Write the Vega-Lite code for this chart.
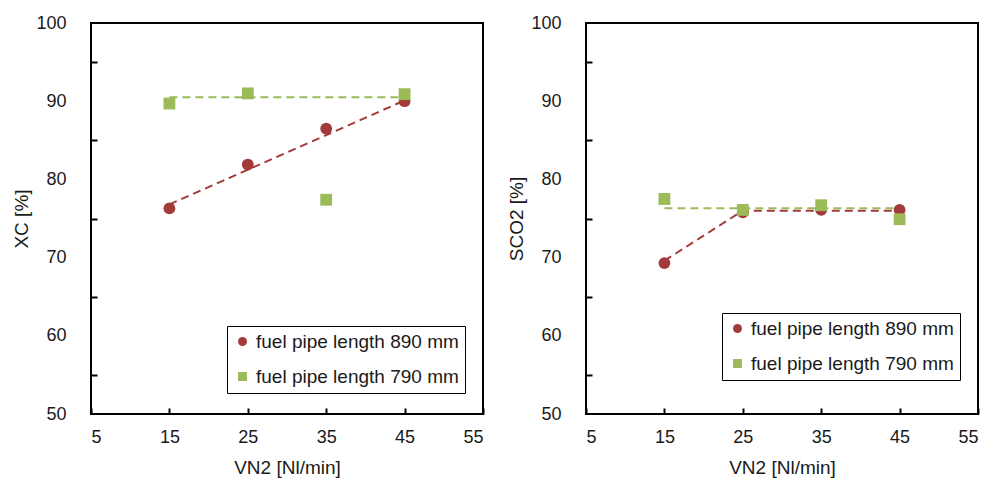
{
  "$schema": "https://vega.github.io/schema/vega-lite/v6.json",
  "background": "white",
  "padding": {"left": 11, "top": 13, "right": 5, "bottom": 3},
  "spacing": 21,
  "datasets": {
    "pts": [
      {"panel": "X", "series": "fuel pipe length 890 mm", "v": 15, "y": 76.3},
      {"panel": "X", "series": "fuel pipe length 890 mm", "v": 25, "y": 81.9},
      {"panel": "X", "series": "fuel pipe length 890 mm", "v": 35, "y": 86.5},
      {"panel": "X", "series": "fuel pipe length 890 mm", "v": 45, "y": 90.0},
      {"panel": "X", "series": "fuel pipe length 790 mm", "v": 15, "y": 89.7},
      {"panel": "X", "series": "fuel pipe length 790 mm", "v": 25, "y": 91.0},
      {"panel": "X", "series": "fuel pipe length 790 mm", "v": 35, "y": 77.4},
      {"panel": "X", "series": "fuel pipe length 790 mm", "v": 45, "y": 90.9},
      {"panel": "S", "series": "fuel pipe length 890 mm", "v": 15, "y": 69.3},
      {"panel": "S", "series": "fuel pipe length 890 mm", "v": 25, "y": 75.8},
      {"panel": "S", "series": "fuel pipe length 890 mm", "v": 35, "y": 76.1},
      {"panel": "S", "series": "fuel pipe length 890 mm", "v": 45, "y": 76.1},
      {"panel": "S", "series": "fuel pipe length 790 mm", "v": 15, "y": 77.5},
      {"panel": "S", "series": "fuel pipe length 790 mm", "v": 25, "y": 76.1},
      {"panel": "S", "series": "fuel pipe length 790 mm", "v": 35, "y": 76.7},
      {"panel": "S", "series": "fuel pipe length 790 mm", "v": 45, "y": 74.9}
    ],
    "trend": [
      {"panel": "X", "series": "fuel pipe length 890 mm", "v": 15, "y": 76.8},
      {"panel": "X", "series": "fuel pipe length 890 mm", "v": 45, "y": 90.1},
      {"panel": "X", "series": "fuel pipe length 790 mm", "v": 15, "y": 90.5},
      {"panel": "X", "series": "fuel pipe length 790 mm", "v": 45, "y": 90.5},
      {"panel": "S", "series": "fuel pipe length 890 mm", "v": 15, "y": 69.6},
      {"panel": "S", "series": "fuel pipe length 890 mm", "v": 25, "y": 76.0},
      {"panel": "S", "series": "fuel pipe length 890 mm", "v": 35, "y": 76.0},
      {"panel": "S", "series": "fuel pipe length 890 mm", "v": 45, "y": 76.0},
      {"panel": "S", "series": "fuel pipe length 790 mm", "v": 15, "y": 76.3},
      {"panel": "S", "series": "fuel pipe length 790 mm", "v": 45, "y": 76.3}
    ]
  },
  "hconcat": [
    {
      "width": 392,
      "height": 391,
      "resolve": {"axis": {"y": "independent"}},
      "layer": [
        {
          "data": {"name": "trend"},
          "transform": [{"filter": "datum.panel === 'X' && datum.series === 'fuel pipe length 890 mm'"}],
          "mark": {"type": "line", "strokeDash": [8, 5], "strokeWidth": 2, "color": "#A33A3A"},
          "encoding": {
            "x": {"field": "v", "type": "quantitative", "scale": {"domain": [5, 55], "nice": false, "zero": false}},
            "y": {"field": "y", "type": "quantitative",
              "scale": {"domain": [50, 100], "nice": false, "zero": false},
              "axis": {"orient": "right", "offset": -392, "values": [55, 65, 75, 85, 95], "labels": false, "domain": false, "ticks": true, "tickSize": 6, "tickOpacity": 1, "title": null}}
          }
        },
        {
          "data": {"name": "trend"},
          "transform": [{"filter": "datum.panel === 'X' && datum.series === 'fuel pipe length 790 mm'"}],
          "mark": {"type": "line", "strokeDash": [8, 5], "strokeWidth": 2, "color": "#9BBB59"},
          "encoding": {
            "x": {"field": "v", "type": "quantitative", "scale": {"domain": [5, 55], "nice": false, "zero": false}},
            "y": {"field": "y", "type": "quantitative", "scale": {"domain": [50, 100], "nice": false, "zero": false}, "axis": null}
          }
        },
        {
          "data": {"name": "pts"},
          "transform": [{"filter": "datum.panel === 'X'"}],
          "mark": {"type": "point", "filled": true, "opacity": 1, "size": 140},
          "encoding": {
            "x": {"field": "v", "type": "quantitative",
              "scale": {"domain": [5, 55], "nice": false, "zero": false},
              "axis": {"values": [5, 15, 25, 35, 45, 55], "title": "VN2 [Nl/min]"}},
            "y": {"field": "y", "type": "quantitative",
              "scale": {"domain": [50, 100], "nice": false, "zero": false},
              "axis": {"orient": "left", "values": [50, 60, 70, 80, 90, 100], "tickOpacity": 0, "title": "XC [%]"}},
            "color": {"field": "series", "type": "nominal",
              "scale": {"domain": ["fuel pipe length 890 mm", "fuel pipe length 790 mm"], "range": ["#A33A3A", "#9BBB59"]},
              "legend": {"orient": "none", "legendX": 136, "legendY": 303, "title": null}},
            "shape": {"field": "series", "type": "nominal",
              "scale": {"domain": ["fuel pipe length 890 mm", "fuel pipe length 790 mm"], "range": ["circle", "square"]},
              "legend": {"orient": "none", "legendX": 136, "legendY": 303, "title": null}}
          }
        }
      ]
    },
    {
      "width": 392,
      "height": 391,
      "resolve": {"axis": {"y": "independent"}},
      "layer": [
        {
          "data": {"name": "trend"},
          "transform": [{"filter": "datum.panel === 'S' && datum.series === 'fuel pipe length 890 mm'"}],
          "mark": {"type": "line", "strokeDash": [8, 5], "strokeWidth": 2, "color": "#A33A3A"},
          "encoding": {
            "x": {"field": "v", "type": "quantitative", "scale": {"domain": [5, 55], "nice": false, "zero": false}},
            "y": {"field": "y", "type": "quantitative",
              "scale": {"domain": [50, 100], "nice": false, "zero": false},
              "axis": {"orient": "right", "offset": -392, "values": [55, 65, 75, 85, 95], "labels": false, "domain": false, "ticks": true, "tickSize": 6, "tickOpacity": 1, "title": null}}
          }
        },
        {
          "data": {"name": "trend"},
          "transform": [{"filter": "datum.panel === 'S' && datum.series === 'fuel pipe length 790 mm'"}],
          "mark": {"type": "line", "strokeDash": [8, 5], "strokeWidth": 2, "color": "#9BBB59"},
          "encoding": {
            "x": {"field": "v", "type": "quantitative", "scale": {"domain": [5, 55], "nice": false, "zero": false}},
            "y": {"field": "y", "type": "quantitative", "scale": {"domain": [50, 100], "nice": false, "zero": false}, "axis": null}
          }
        },
        {
          "data": {"name": "pts"},
          "transform": [{"filter": "datum.panel === 'S'"}],
          "mark": {"type": "point", "filled": true, "opacity": 1, "size": 140},
          "encoding": {
            "x": {"field": "v", "type": "quantitative",
              "scale": {"domain": [5, 55], "nice": false, "zero": false},
              "axis": {"values": [5, 15, 25, 35, 45, 55], "title": "VN2 [Nl/min]"}},
            "y": {"field": "y", "type": "quantitative",
              "scale": {"domain": [50, 100], "nice": false, "zero": false},
              "axis": {"orient": "left", "values": [50, 60, 70, 80, 90, 100], "tickOpacity": 0, "title": "SCO2 [%]"}},
            "color": {"field": "series", "type": "nominal",
              "scale": {"domain": ["fuel pipe length 890 mm", "fuel pipe length 790 mm"], "range": ["#A33A3A", "#9BBB59"]},
              "legend": {"orient": "none", "legendX": 136, "legendY": 290, "title": null}},
            "shape": {"field": "series", "type": "nominal",
              "scale": {"domain": ["fuel pipe length 890 mm", "fuel pipe length 790 mm"], "range": ["circle", "square"]},
              "legend": {"orient": "none", "legendX": 136, "legendY": 290, "title": null}}
          }
        }
      ]
    }
  ],
  "resolve": {"scale": {"color": "independent", "shape": "independent"}, "legend": {"color": "independent", "shape": "independent"}},
  "config": {
    "font": "Liberation Sans",
    "view": {"stroke": "black", "strokeWidth": 2},
    "axis": {
      "grid": false,
      "domain": false,
      "ticks": true,
      "offset": -6,
      "tickColor": "black",
      "tickSize": 6,
      "tickWidth": 2,
      "labelFont": "Liberation Sans",
      "labelFontSize": 18,
      "labelColor": "#1a1a1a",
      "titleFont": "Liberation Sans",
      "titleFontSize": 19,
      "titleFontWeight": "normal",
      "titleColor": "#1a1a1a"
    },
    "axisX": {"labelPadding": 14, "titlePadding": 12},
    "axisY": {"labelPadding": 25, "titlePadding": 4},
    "legend": {
      "strokeColor": "black",
      "fillColor": "white",
      "padding": 6,
      "labelFont": "Liberation Sans",
      "labelFontSize": 19,
      "labelLimit": 0,
      "labelColor": "#1a1a1a",
      "symbolSize": 80,
      "labelOffset": 4,
      "rowPadding": 15,
      "symbolStrokeWidth": 0
    }
  }
}
